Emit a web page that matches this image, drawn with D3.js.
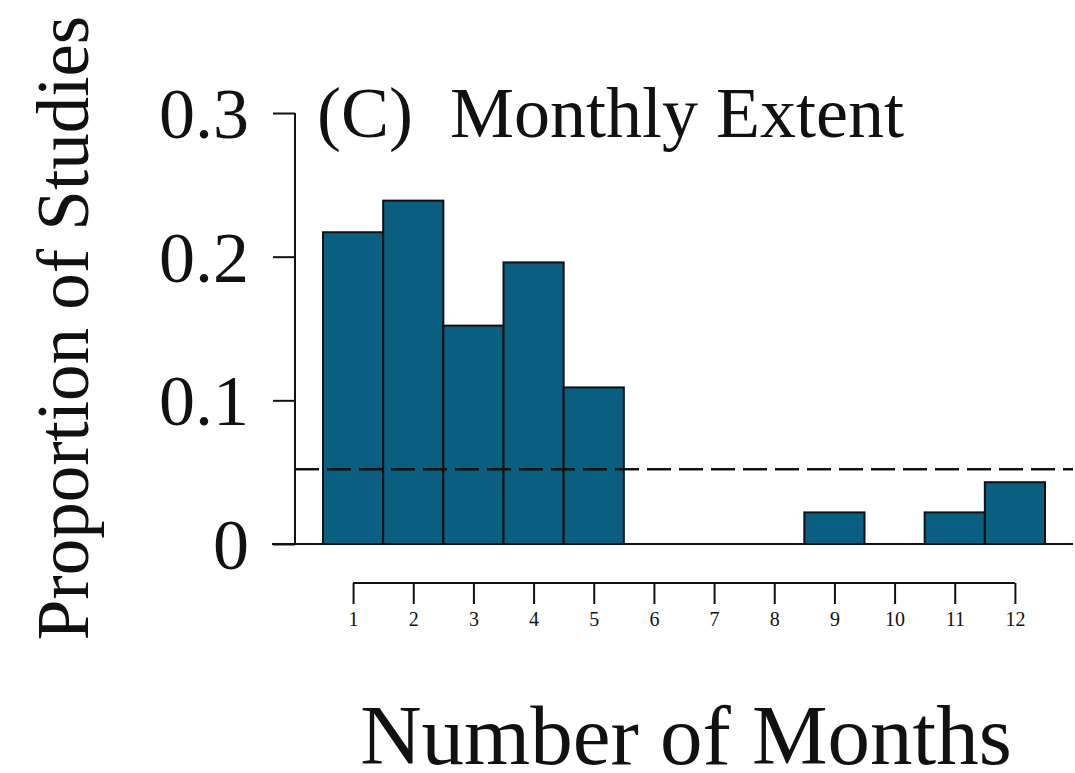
<!DOCTYPE html>
<html>
<head>
<meta charset="utf-8">
<script src="https://cdn.jsdelivr.net/npm/d3@7"></script>
<style>
  html, body { margin: 0; padding: 0; background: #fff; }
  svg { display: block; font-family: "Liberation Serif", "Times New Roman", serif; }
</style>
</head>
<body>
<svg id="chart" width="1075" height="773"></svg>
<script>
// Number of months covered by each study (1..12)
const months = [1, 2, 3, 4, 5, 6, 7, 8, 9, 10, 11, 12];
// Proportion of studies in each month bin
const proportions = [0.217, 0.239, 0.152, 0.196, 0.109, 0, 0, 0, 0.022, 0, 0.022, 0.043];
// Reference (uniform expectation) line
const referenceLevel = [0.052];
// Y axis tick values and labels
const yTicks = [0, 0.1, 0.2, 0.3];
const yTickLabels = ["0", "0.1", "0.2", "0.3"];

const svg = d3.select("#chart");
const barFill = "#0a5f80";
const ink = "#111";

const x = d3.scaleLinear().domain([0.5, 12.5]).range([323, 1045]);
const y = d3.scaleLinear().domain([0, 0.3]).range([544, 113]);

// Bars
svg.append("g")
  .selectAll("rect")
  .data(months.map((m, i) => ({ m, v: proportions[i] })).filter(d => d.v > 0))
  .join("rect")
  .attr("x", d => x(d.m - 0.5))
  .attr("width", d => x(d.m + 0.5) - x(d.m - 0.5))
  .attr("y", d => y(d.v))
  .attr("height", d => y(0) - y(d.v))
  .attr("fill", barFill)
  .attr("stroke", ink)
  .attr("stroke-width", 2);

// Zero baseline
svg.append("line")
  .attr("x1", 272).attr("x2", 1073)
  .attr("y1", y(0)).attr("y2", y(0))
  .attr("stroke", ink).attr("stroke-width", 2);

// Dashed reference line
svg.append("g")
  .selectAll("line")
  .data(referenceLevel)
  .join("line")
  .attr("x1", 295).attr("x2", 1073)
  .attr("y1", d => y(d)).attr("y2", d => y(d))
  .attr("stroke", ink).attr("stroke-width", 2.4)
  .attr("stroke-dasharray", "24,8");

// Y axis
const yAxis = d3.axisLeft(y)
  .tickValues(yTicks)
  .tickFormat((d, i) => yTickLabels[i])
  .tickSize(22)
  .tickPadding(24);
const yg = svg.append("g").attr("transform", "translate(295,0)").call(yAxis);
yg.select(".domain").attr("stroke", ink).attr("stroke-width", 2)
  .attr("d", `M0,${y(0.3)}V${y(0)}`);
yg.selectAll(".tick line").attr("stroke", ink).attr("stroke-width", 2);
yg.selectAll(".tick text")
  .attr("fill", ink)
  .attr("font-size", 72)
  .attr("font-family", "Liberation Serif, Times New Roman, serif")
  .attr("dy", "0.34em");

// X axis (offset below the bars)
const xAxis = d3.axisBottom(x)
  .tickValues(months)
  .tickFormat(d3.format("d"))
  .tickSize(21)
  .tickPadding(8);
const xg = svg.append("g").attr("transform", "translate(0,583)").call(xAxis);
xg.select(".domain").attr("stroke", ink).attr("stroke-width", 2)
  .attr("d", `M${x(1)},0H${x(12)}`);
xg.selectAll(".tick line").attr("stroke", ink).attr("stroke-width", 2);
xg.selectAll(".tick text")
  .attr("fill", ink)
  .attr("font-size", 20)
  .attr("font-family", "Liberation Serif, Times New Roman, serif");

// Panel title
svg.append("text")
  .attr("x", 317).attr("y", 137)
  .attr("font-size", 72).attr("fill", ink)
  .text("(C)");
svg.append("text")
  .attr("x", 450).attr("y", 137)
  .attr("font-size", 72).attr("fill", ink)
  .text("Monthly Extent");

// Axis titles
svg.append("text")
  .attr("transform", "translate(88,328) rotate(-90)")
  .attr("text-anchor", "middle")
  .attr("font-size", 73).attr("fill", ink)
  .text("Proportion of Studies");

svg.append("text")
  .attr("x", 686).attr("y", 764)
  .attr("text-anchor", "middle")
  .attr("font-size", 85).attr("fill", ink)
  .text("Number of Months");
</script>
</body>
</html>
